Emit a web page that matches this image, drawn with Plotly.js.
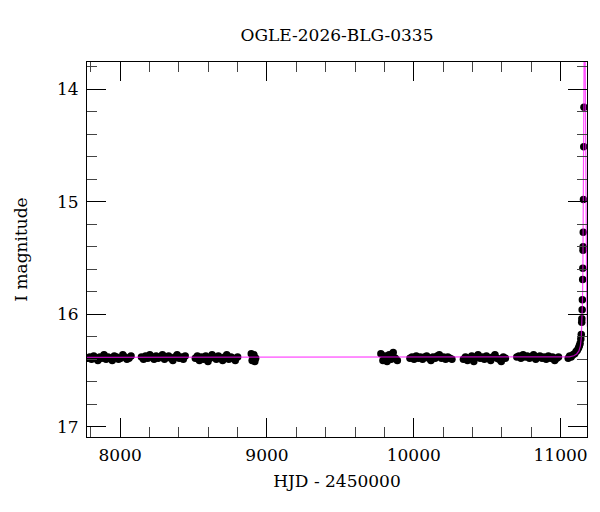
<!DOCTYPE html>
<html>
<head>
<meta charset="utf-8">
<script src="https://cdn.plot.ly/plotly-3.0.1.min.js"></script>
<style>
  html, body { margin: 0; padding: 0; background: #fff; }
  #chart { width: 600px; height: 512px; }
</style>
</head>
<body>
<div id="chart"></div>
<script>
// OGLE photometry, I band, by observing season (HJD - 2450000)
const hjd = [
  7778, 7792, 7805, 7820, 7834, 7848, 7861, 7875, 7890, 7904, 7918, 7932, 7946, 7960, 7975, 7989, 8003, 8018, 8032, 8046, 8060, 8074,
  8145, 8159, 8173, 8188, 8202, 8216, 8231, 8245, 8259, 8273, 8288, 8302, 8316, 8330, 8345, 8359, 8373, 8388, 8402, 8416, 8430, 8443,
  8512, 8526, 8540, 8555, 8569, 8583, 8598, 8612, 8626, 8640, 8655, 8669, 8683, 8698, 8712, 8726, 8740, 8755, 8769, 8784, 8800,
  8893, 8899, 8905, 8911, 8917, 8923,
  9776, 9790, 9804, 9818, 9832, 9846, 9860, 9874, 9888,
  9974, 9988, 10002, 10017, 10031, 10045, 10060, 10074, 10088, 10103, 10117, 10131, 10146, 10160, 10174, 10189, 10203, 10217, 10232, 10246, 10260,
  10338, 10352, 10366, 10381, 10395, 10409, 10424, 10438, 10452, 10467, 10481, 10495, 10510, 10524, 10538, 10553, 10567, 10581, 10596, 10610, 10624,
  10702, 10716, 10730, 10745, 10759, 10773, 10788, 10802, 10816, 10831, 10845, 10859, 10874, 10888, 10902, 10917, 10931, 10945, 10960, 10974, 10986,
  11052, 11062, 11072, 11084, 11096, 11106, 11114, 11122, 11128, 11133, 11138, 11141, 11144, 11145, 11147, 11148.5, 11150.5, 11151.5, 11153, 11153.5, 11154.5, 11156, 11158, 11159.5
];
const imag = [
  16.39, 16.38, 16.40, 16.37, 16.39, 16.41, 16.38, 16.39, 16.36, 16.40, 16.38, 16.39, 16.41, 16.37, 16.38, 16.40, 16.39, 16.36, 16.38, 16.40, 16.39, 16.37,
  16.38, 16.40, 16.37, 16.39, 16.36, 16.38, 16.40, 16.37, 16.39, 16.38, 16.36, 16.40, 16.38, 16.37, 16.39, 16.41, 16.38, 16.36, 16.39, 16.38, 16.40, 16.37,
  16.39, 16.37, 16.41, 16.38, 16.40, 16.37, 16.42, 16.39, 16.36, 16.38, 16.40, 16.37, 16.39, 16.41, 16.38, 16.36, 16.40, 16.38, 16.39, 16.41, 16.38,
  16.35, 16.41, 16.38, 16.36, 16.42, 16.39,
  16.35, 16.41, 16.37, 16.42, 16.36, 16.40, 16.34, 16.39, 16.41,
  16.39, 16.38, 16.40, 16.37, 16.39, 16.38, 16.40, 16.38, 16.37, 16.39, 16.41, 16.38, 16.39, 16.37, 16.36, 16.39, 16.38, 16.40, 16.38, 16.39, 16.40,
  16.40, 16.38, 16.41, 16.39, 16.37, 16.42, 16.38, 16.36, 16.39, 16.38, 16.40, 16.37, 16.39, 16.41, 16.38, 16.36, 16.39, 16.40, 16.42, 16.38, 16.39,
  16.38, 16.37, 16.39, 16.36, 16.38, 16.37, 16.39, 16.38, 16.36, 16.40, 16.38, 16.37, 16.39, 16.38, 16.40, 16.37, 16.39, 16.38, 16.41, 16.39, 16.38,
  16.39, 16.37, 16.38, 16.36, 16.35, 16.33, 16.32, 16.30, 16.28, 16.26, 16.22, 16.18, 16.07, 16.04, 15.96, 15.87, 15.69, 15.59, 15.43, 15.40, 15.27, 14.98, 14.51, 14.16
];

// fitted model curve
const modelHjd = [7774, 11020, 11060, 11090, 11110, 11125, 11135, 11141, 11145, 11149, 11152, 11155, 11157.5, 11159.5, 11161, 11163.5, 11166, 11167.5, 11169.5, 11172, 11175, 11178, 11182];
const modelMag = [16.382, 16.381, 16.378, 16.368, 16.352, 16.325, 16.28, 16.21, 16.11, 15.90, 15.62, 15.15, 14.65, 14.10, 13.55, 12.9, 13.55, 14.10, 14.65, 15.15, 15.62, 15.90, 16.11];

const titleText = 'OGLE-2026-BLG-0335';
const xLabel = 'HJD - 2450000';
const yLabel = 'I magnitude';

const points = {
  x: hjd,
  y: imag,
  type: 'scatter',
  mode: 'markers',
  marker: { size: 7.5, color: '#000' },
  hoverinfo: 'skip',
};

const model = {
  x: modelHjd,
  y: modelMag,
  type: 'scatter',
  mode: 'lines',
  line: { color: 'rgba(255,0,255,0.7)', width: 1.2 },
  hoverinfo: 'skip',
};

const axisCommon = {
  showgrid: false,
  zeroline: false,
  showline: true,
  linecolor: '#000',
  linewidth: 1,
  mirror: 'allticks',
  ticks: 'inside',
  ticklen: 19,
  tickwidth: 1,
  tickcolor: '#000',
  tickfont: { size: 17, color: '#000' },
};

const layout = {
  width: 600,
  height: 512,
  margin: { t: 62, r: 13, b: 75, l: 87 },
  paper_bgcolor: '#fff',
  plot_bgcolor: '#fff',
  font: { family: '"DejaVu Serif", serif', color: '#000' },
  showlegend: false,
  title: {
    text: titleText,
    font: { size: 17 },
    x: 0.5, xref: 'paper',
    y: 1 - 35 / 512, yref: 'container', yanchor: 'middle',
  },
  xaxis: Object.assign({}, axisCommon, {
    range: [7774, 11180],
    dtick: 1000,
    tick0: 0,
    tickformat: 'd',
    ticklabelstandoff: 3,
    minor: { dtick: 200, ticks: 'inside', ticklen: 10, tickcolor: '#444' },
    title: { text: xLabel, font: { size: 17 }, standoff: 10 },
  }),
  yaxis: Object.assign({}, axisCommon, {
    range: [17.09, 13.757],
    dtick: 1,
    tick0: 0,
    ticklabelstandoff: 4,
    minor: { dtick: 0.2, ticks: 'inside', ticklen: 10, tickcolor: '#444' },
    title: { text: yLabel, font: { size: 17 }, standoff: 25 },
  }),
};

Plotly.newPlot('chart', [points, model], layout, { displayModeBar: false, staticPlot: true });
</script>
</body>
</html>
